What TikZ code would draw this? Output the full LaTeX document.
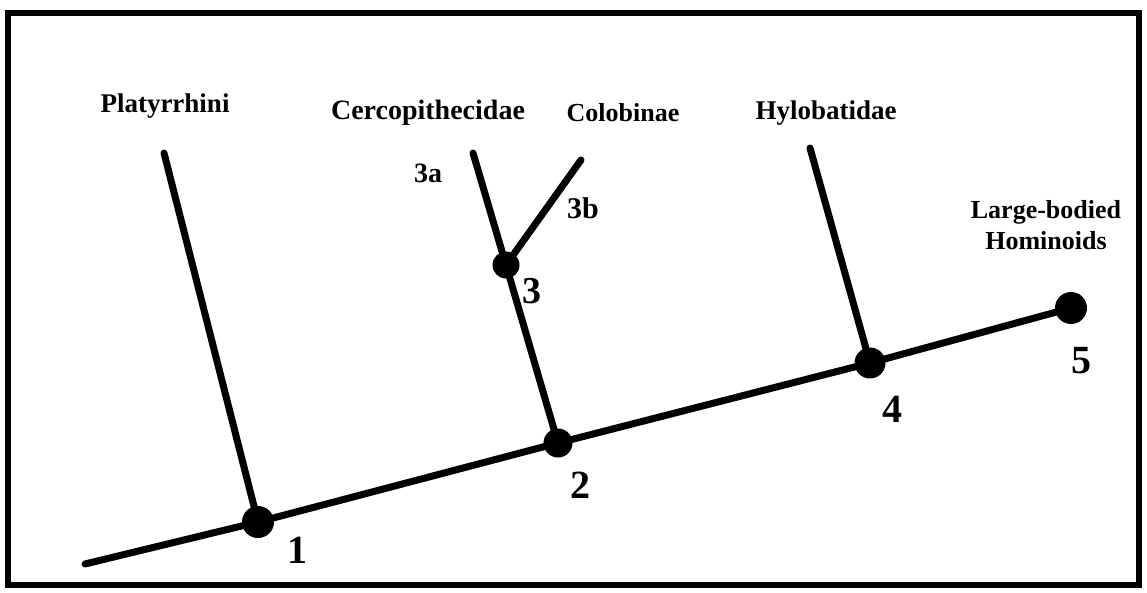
\documentclass[tikz,border=0pt]{standalone}
\usepackage{fontspec}
\setmainfont{Liberation Serif}
\begin{document}
\begin{tikzpicture}[x=1pt,y=-1pt,
  branch/.style={line width=7pt,line cap=round},
  dot/.style={circle,fill=black,inner sep=0pt,minimum size=#1},
  taxon/.style={anchor=base,inner sep=0pt,font=\bfseries\fontsize{27}{31}\selectfont},
  num/.style={anchor=base,inner sep=0pt,font=\bfseries\fontsize{40}{44}\selectfont},
  sub/.style={anchor=base,inner sep=0pt,font=\bfseries\fontsize{28}{32}\selectfont}]
\useasboundingbox (0,0) rectangle (1147,593);
\draw[line width=6pt] (8,13) rectangle (1139,585);
% branch points
\node[dot=32pt] (d1) at (258,522) {};
\node[dot=29pt] (d2) at (558,443) {};
\node[dot=27pt] (d3) at (506,265) {};
\node[dot=31pt] (d4) at (870,363) {};
\node[dot=32pt] (d5) at (1071,308) {};
% free ends
\coordinate (s0) at (85,564);
\coordinate (tP) at (164,153);
\coordinate (tA) at (473,153);
\coordinate (tB) at (581,160);
\coordinate (tH) at (810,148);
% lines
\draw[branch] (s0) -- (d1.center) -- (d2.center) -- (d4.center) -- (d5.center);
\draw[branch] (tP) -- (d1.center);
\draw[branch] (tA) -- (d3.center) -- (d2.center);
\draw[branch] (tB) -- (d3.center);
\draw[branch] (tH) -- (d4.center);
% labels
\node[taxon] (lP) at (165,113) {Platyrrhini};
\node[taxon,font=\bfseries\fontsize{28}{32}\selectfont] (lC) at (428,120) {Cercopithecidae};
\node[taxon,font=\bfseries\fontsize{26}{30}\selectfont] (lCo) at (623,122) {Colobinae};
\node[taxon] (lH) at (826,120) {Hylobatidae};
\node[inner sep=0pt,align=center,font=\bfseries\fontsize{26}{31}\selectfont] (lL) at (1046,225) {Large-bodied\\Hominoids};
\node[sub] (n3a) at (428,183) {3a};
\node[sub,font=\bfseries\fontsize{30}{34}\selectfont] (n3b) at (583,219) {3b};
\node[num,font=\bfseries\fontsize{38}{42}\selectfont] (n3) at (532,303) {3};
\node[num] (n1) at (297,563) {1};
\node[num] (n2) at (580,498) {2};
\node[num] (n4) at (892,422) {4};
\node[num] (n5) at (1081,373) {5};
\end{tikzpicture}
\end{document}
